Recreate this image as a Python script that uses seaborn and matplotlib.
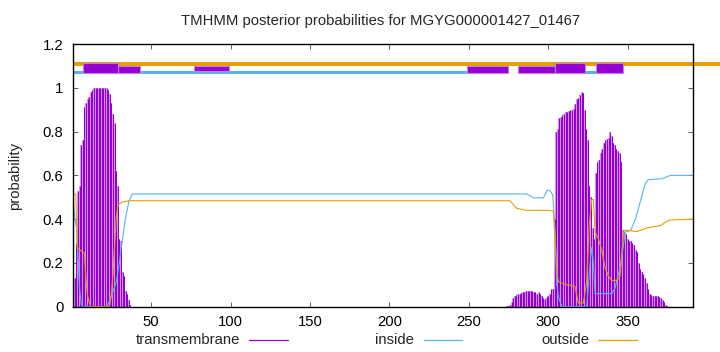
import numpy as np
import pandas as pd
import matplotlib
matplotlib.use("Agg")
import matplotlib.pyplot as plt
from matplotlib.lines import Line2D
from matplotlib.patches import Rectangle
import seaborn as sns

# ---------------- data ----------------
title = "TMHMM posterior probabilities for MGYG000001427_01467"
seq_len = 391

# transmembrane posterior, residues 1..391
tm_head = [0.02, 0.13, 0.29, 0.53, 0.55, 0.74, 0.76, 0.91, 0.93, 0.95,
           0.96, 0.98, 0.99, 1.0, 1.0, 1.0, 1.0, 1.0, 1.0, 1.0,
           1.0, 1.0, 0.99, 0.97, 0.93, 0.88, 0.84, 0.62, 0.55, 0.31,
           0.30, 0.16, 0.14, 0.07, 0.06, 0.03, 0.01, 0.0]            # 1..38
tm_mid = [0.0] * 235                                                   # 39..273
tm_bump = [0.003, 0.005, 0.01, 0.02, 0.04, 0.05, 0.055, 0.06, 0.06, 0.062,
           0.065, 0.068, 0.07, 0.07, 0.07, 0.07, 0.07, 0.068, 0.065, 0.06,
           0.066, 0.06, 0.05, 0.04, 0.035, 0.045, 0.05, 0.06, 0.08]     # 274..302
tm_tail = [0.08, 0.40, 0.80, 0.81, 0.86, 0.865, 0.875, 0.88, 0.89, 0.89,
           0.895, 0.90, 0.90, 0.905, 0.925, 0.95, 0.955, 0.965, 0.98, 0.975,
           0.90, 0.81, 0.76, 0.55, 0.50, 0.36, 0.31, 0.61, 0.66, 0.67,
           0.70, 0.72, 0.75, 0.76, 0.765, 0.77, 0.80, 0.78, 0.75, 0.74,
           0.72, 0.71, 0.70, 0.66, 0.35, 0.34, 0.33, 0.31, 0.30, 0.30,
           0.29, 0.28, 0.26, 0.25, 0.20, 0.17, 0.16, 0.15, 0.13, 0.11,
           0.08, 0.06, 0.055, 0.05, 0.05, 0.05, 0.05, 0.045, 0.04, 0.03,
           0.02, 0.01, 0.005]                                          # 303..375
tm_end = [0.0] * 16                                                    # 376..391
tm_prob = tm_head + tm_mid + tm_bump + tm_tail + tm_end

inside_pos = [1, 2, 3, 4, 5, 6, 7, 22, 24, 26, 28, 30, 31, 32, 34, 36, 38, 40,
              286.5, 290.7, 297, 299.5, 301.2, 302.9, 304.4, 305.4, 306.5, 308.6,
              324.3, 326.4, 327.4, 328.5, 329.5, 340.1, 342.1, 345.3, 347.4, 348.4,
              352, 355, 358, 361, 363, 372, 377, 391]
inside_prob = [0.48, 0.40, 0.36, 0.22, 0.08, 0.01, 0.0, 0.0, 0.03, 0.07, 0.11, 0.20,
               0.26, 0.31, 0.41, 0.48, 0.513, 0.515,
               0.515, 0.497, 0.497, 0.533, 0.53, 0.51, 0.34, 0.10, 0.045, 0.0,
               0.0, 0.20, 0.27, 0.20, 0.06, 0.06, 0.085, 0.18, 0.28, 0.34,
               0.35, 0.40, 0.48, 0.56, 0.58, 0.585, 0.60, 0.60]

outside_pos = [1, 2.5, 3.5, 5, 7, 8, 9, 10, 11, 12, 23, 24, 25, 26, 27, 28, 29, 30,
               32, 36, 276, 280, 286.5, 301, 303.3, 304.4, 305.5, 306.5, 311.7, 316,
               317, 318.1, 319, 322.2, 324.3, 325.8, 327.4, 328.5, 329.5, 331.6,
               333.7, 335.8, 337.9, 340.1, 343.2, 345.3, 347.4, 348.4, 355.8, 362.1,
               370.5, 374.7, 376.8, 391]
outside_prob = [0.515, 0.515, 0.27, 0.26, 0.25, 0.245, 0.12, 0.05, 0.02, 0.0, 0.0, 0.01,
                0.06, 0.15, 0.28, 0.40, 0.46, 0.47, 0.478, 0.484, 0.484, 0.45, 0.44,
                0.44, 0.435, 0.30, 0.15, 0.114, 0.10, 0.095, 0.09, 0.05, 0.017, 0.017,
                0.12, 0.365, 0.49, 0.49, 0.34, 0.31, 0.26, 0.18, 0.14, 0.12, 0.12,
                0.14, 0.34, 0.35, 0.343, 0.36, 0.37, 0.39, 0.396, 0.40]

# predicted topology (residue ranges) drawn above the plot
outside_band = (1, 408)
inside_bands = [(1, 251.9), (323.2, 330.5)]
tm_boxes_tall = [(6.9, 29.3), (304.3, 323.2), (330.2, 347.0)]
tm_boxes_low = [(21.0, 43.0), (249.1, 274.9), (281.2, 304.3)]
tm_boxes_thin = [(77.0, 99.2)]

series_names = ["transmembrane", "inside", "outside"]
c_tm, c_in, c_out = "#9400D3", "#56B4E9", "#E69F00"
c_tm_light = "#d49af0"

# ---------------- style ----------------
sns.set_theme(style="white")
plt.rcParams["font.family"] = ["Liberation Sans", "DejaVu Sans"]
plt.rcParams["font.size"] = 10.7

W, H = 720, 352
fig = plt.figure(figsize=(W / 100, H / 100), dpi=100)
L, R, T, B = 73.3, 692.7, 44.0, 306.7
ax = fig.add_axes([L / W, 1 - B / H, (R - L) / W, (B - T) / H])

residues = np.arange(1, seq_len + 1)
ax.bar(residues, tm_prob, width=1.0, color=c_tm_light, linewidth=0, zorder=1)
ax.vlines(residues, 0, tm_prob, color=c_tm, lw=0.75, zorder=2)

df_in = pd.DataFrame({"pos": inside_pos, "prob": inside_prob})
df_out = pd.DataFrame({"pos": outside_pos, "prob": outside_prob})
sns.lineplot(data=df_in, x="pos", y="prob", ax=ax, color=c_in, lw=0.8,
             estimator=None, sort=False, zorder=3)
sns.lineplot(data=df_out, x="pos", y="prob", ax=ax, color=c_out, lw=0.8,
             estimator=None, sort=False, zorder=3)

# topology
ax.plot(list(outside_band), [1.11, 1.11], color=c_out, lw=2.9,
        solid_capstyle="butt", clip_on=False, zorder=4)
for a, b in inside_bands:
    ax.plot([a, b], [1.071, 1.071], color=c_in, lw=2.2,
            solid_capstyle="butt", zorder=4)
for a, b in tm_boxes_low:
    ax.add_patch(Rectangle((a, 1.066), b - a, 1.101 - 1.066, facecolor=c_tm,
                           edgecolor="#c17fe6", lw=0.8, zorder=5))
for a, b in tm_boxes_tall:
    ax.add_patch(Rectangle((a, 1.066), b - a, 1.113 - 1.066, facecolor=c_tm,
                           edgecolor="#c17fe6", lw=0.8, zorder=5))
for a, b in tm_boxes_thin:
    ax.add_patch(Rectangle((a, 1.077), b - a, 1.101 - 1.077, facecolor=c_tm,
                           edgecolor="#c17fe6", lw=0.8, zorder=5))

ax.set_xlim(1, seq_len)
ax.set_ylim(0, 1.2)
ax.set_xticks([50, 100, 150, 200, 250, 300, 350])
ax.set_xticklabels(["50", "100", "150", "200", "250", "300", "350"])
ax.set_yticks([0, 0.2, 0.4, 0.6, 0.8, 1.0, 1.2])
ax.set_yticklabels(["0", "0.2", "0.4", "0.6", "0.8", "1", "1.2"])
ax.tick_params(direction="in", length=3.5, width=0.6, color="#444444",
               top=True, right=True, bottom=True, left=True,
               labelsize=10.7, labelcolor="black")
ax.tick_params(axis="y", pad=7)
ax.tick_params(axis="x", pad=6)
ax.set_xlabel("")
ax.set_ylabel("")
for s in ax.spines.values():
    s.set_color("black")
    s.set_linewidth(1.0)
    s.set_zorder(6)

fig.text(15 / W, 1 - 176 / H, "probability", rotation=90, ha="center",
         va="center", fontsize=10.7)
fig.text(381 / W, 1 - 21 / H, title, ha="center", va="center", fontsize=10.7)

# gnuplot-style key at the bottom
key_y = 1 - 340 / H
for name, col, tx, x0, x1 in [(series_names[0], c_tm, 240, 249, 288),
                              (series_names[1], c_in, 414, 424, 462),
                              (series_names[2], c_out, 589, 598, 637)]:
    fig.text(tx / W, key_y, name, ha="right", va="center", fontsize=10.7)
    fig.add_artist(Line2D([x0 / W, x1 / W], [key_y, key_y], color=col, lw=0.9,
                          transform=fig.transFigure))

fig.savefig("out.png", dpi=100)
